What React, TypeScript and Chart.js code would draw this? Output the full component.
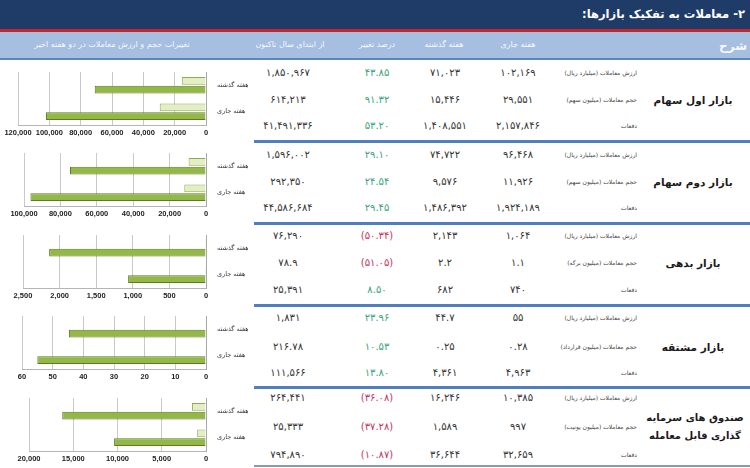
import React, { useEffect, useRef } from "react";
import { Chart, registerables } from "chart.js";
Chart.register(...registerables);

// ---------- data ----------
const weekLabels = ["هفته گذشته", "هفته جاری"];

const firstMarketVolume = [15446, 29551];
const firstMarketValue = [71023, 102169];
const secondMarketVolume = [9576, 11926];
const secondMarketValue = [74722, 96468];
const debtMarketVolume = [2.2, 1.1];
const debtMarketValue = [2143, 1064];
const derivMarketVolume = [0.25, 0.28];
const derivMarketValue = [44.7, 55];
const etfVolume = [1589, 997];
const etfValue = [16246, 10385];

const axisMax = [120000, 100000, 2500, 60, 20000];
const axisStep = [20000, 20000, 500, 10, 5000];

const title = "۲- معاملات به تفکیک بازارها:";
const headerLabels = ["شرح", "هفته جاری", "هفته گذشته", "درصد تغییر", "از ابتدای سال تاکنون", "تغییرات حجم و ارزش معاملات در دو هفته اخیر"];

const sectionNames = [
  ["بازار اول سهام"],
  ["بازار دوم سهام"],
  ["بازار بدهی"],
  ["بازار مشتقه"],
  ["صندوق های سرمایه", "گذاری قابل معامله"],
];
const rowLabels = [
  ["ارزش معاملات (میلیارد ریال)", "حجم معاملات (میلیون سهم)", "دفعات"],
  ["ارزش معاملات (میلیارد ریال)", "حجم معاملات (میلیون سهم)", "دفعات"],
  ["ارزش معاملات (میلیارد ریال)", "حجم معاملات (میلیون برگه)", "دفعات"],
  ["ارزش معاملات (میلیارد ریال)", "حجم معاملات (میلیون قرارداد)", "دفعات"],
  ["ارزش معاملات (میلیارد ریال)", "حجم معاملات (میلیون یونیت)", "دفعات"],
];
const currentWeek = [
  ["102,169", "29,551", "2,157,846"],
  ["96,468", "11,926", "1,924,189"],
  ["1,064", "1.1", "740"],
  ["55", "0.28", "4,963"],
  ["10,385", "997", "32,659"],
];
const previousWeek = [
  ["71,023", "15,446", "1,408,551"],
  ["74,722", "9,576", "1,486,392"],
  ["2,143", "2.2", "682"],
  ["44.7", "0.25", "4,361"],
  ["16,246", "1,589", "36,644"],
];
const changePct = [
  ["43.85", "91.32", "53.20"],
  ["29.10", "24.54", "29.45"],
  ["(50.34)", "(51.05)", "8.50"],
  ["23.96", "10.53", "13.80"],
  ["(36.08)", "(37.28)", "(10.87)"],
];
const yearToDate = [
  ["1,850,967", "614,213", "41,491,336"],
  ["1,596,002", "292,350", "44,586,684"],
  ["76,290", "78.9", "25,391"],
  ["1,831", "216.78", "111,566"],
  ["264,441", "25,333", "794,890"],
];

const chartVolumes = [firstMarketVolume, secondMarketVolume, debtMarketVolume, derivMarketVolume, etfVolume];
const chartValues = [firstMarketValue, secondMarketValue, debtMarketValue, derivMarketValue, etfValue];

// ---------- layout ----------
const rowY = [
  [73, 100, 126],
  [155, 182, 208],
  [236, 263, 290],
  [318, 347, 373],
  [398, 427, 455],
];
const separatorY = [141, 223, 305, 387];
const chartTop = [62, 143, 225, 306, 388];
const chartPadLeft = [18, 24, 23, 22, 29];
const chartH = 78;
const FA_FONT = "'DejaVu Sans', sans-serif";

const faDigits = "۰۱۲۳۴۵۶۷۸۹";
const toFa = (s: string) => s.replace(/[0-9]/g, (d) => faDigits[Number(d)]);

function MiniChart({ idx }: { idx: number }) {
  const ref = useRef<HTMLCanvasElement | null>(null);
  useEffect(() => {
    if (!ref.current) return;
    const chart = new Chart(ref.current, {
      type: "bar",
      data: {
        labels: weekLabels,
        datasets: [
          {
            label: "حجم",
            data: chartVolumes[idx],
            backgroundColor: "#e3edc6",
            borderColor: "#8fae45",
            borderWidth: 1,
            barPercentage: 0.9,
            categoryPercentage: 0.66,
          },
          {
            label: "ارزش",
            data: chartValues[idx],
            backgroundColor: "#93b847",
            borderColor: "#5d7c22",
            borderWidth: 1,
            barPercentage: 0.9,
            categoryPercentage: 0.66,
          },
        ],
      },
      options: {
        indexAxis: "y",
        animation: false,
        responsive: false,
        maintainAspectRatio: false,
        layout: { padding: { left: chartPadLeft[idx], right: 1, top: 10, bottom: 0 } },
        plugins: { legend: { display: false }, tooltip: { enabled: false } },
        scales: {
          x: {
            reverse: true,
            min: 0,
            max: axisMax[idx],
            ticks: {
              stepSize: axisStep[idx],
              autoSkip: false,
              color: "#222",
              font: { family: "'Liberation Sans', Arial, sans-serif", size: 7.5, weight: "bold" },
              padding: 3,
              maxRotation: 0,
              minRotation: 0,
              callback: (v: any) => Number(v).toLocaleString("en-US"),
            },
            grid: { color: "#c9c9c9", lineWidth: 1, drawTicks: false },
            border: { display: true, color: "#b5b5b5" },
          },
          y: {
            position: "right",
            ticks: {
              color: "#333",
              font: { family: FA_FONT, size: 6.5 },
              padding: 3,
            },
            grid: { display: false, drawTicks: true },
            border: { display: true, color: "#a8a8a8" },
            afterFit: (s: any) => {
              s.width = 42;
            },
          },
        },
      },
    });
    return () => chart.destroy();
  }, [idx]);
  return (
    <canvas
      ref={ref}
      width={249}
      height={chartH}
      style={{ position: "absolute", left: 0, top: chartTop[idx], width: 249, height: chartH }}
    />
  );
}

function Cell({ x, y, text, color, size, weight, dir, align, width }: any) {
  const w = width || 90;
  let left = x - w / 2;
  if (align === "right") left = x - w;
  return (
    <div
      style={{
        position: "absolute",
        left,
        top: y - 10,
        width: w,
        height: 20,
        lineHeight: "20px",
        textAlign: align === "right" ? "right" : "center",
        fontFamily: FA_FONT,
        fontSize: size,
        fontWeight: weight || "normal",
        color,
        direction: dir || "rtl",
        whiteSpace: "nowrap",
      }}
    >
      {text}
    </div>
  );
}

export default function App() {
  const cols = { cur: 518, prev: 445, chg: 377, ytd: 288 };
  const els: any[] = [];
  for (let s = 0; s < 5; s++) {
    for (let r = 0; r < 3; r++) {
      const y = rowY[s][r];
      els.push(<Cell key={`l${s}${r}`} x={637} y={y} text={rowLabels[s][r]} color="#444" size={6} align="right" width={120} />);
      els.push(<Cell key={`c${s}${r}`} x={cols.cur} y={y} text={toFa(currentWeek[s][r])} color="#333" size={10} dir="ltr" />);
      els.push(<Cell key={`p${s}${r}`} x={cols.prev} y={y} text={toFa(previousWeek[s][r])} color="#333" size={10} dir="ltr" />);
      const neg = changePct[s][r].startsWith("(");
      els.push(
        <Cell key={`g${s}${r}`} x={cols.chg} y={y} text={toFa(changePct[s][r])} color={neg ? "#c8345a" : "#3aa57a"} size={10} dir="ltr" />
      );
      els.push(<Cell key={`y${s}${r}`} x={cols.ytd} y={y} text={toFa(yearToDate[s][r])} color="#333" size={10} dir="ltr" />);
    }
    const names = sectionNames[s];
    if (names.length === 1) {
      els.push(<Cell key={`n${s}`} x={693} y={rowY[s][1]} text={names[0]} color="#1a1a1a" size={10.5} weight="bold" width={110} />);
    } else {
      els.push(<Cell key={`n${s}a`} x={695} y={rowY[s][1] - 9} text={names[0]} color="#1a1a1a" size={10} weight="bold" width={110} />);
      els.push(<Cell key={`n${s}b`} x={695} y={rowY[s][1] + 9} text={names[1]} color="#1a1a1a" size={10} weight="bold" width={110} />);
    }
  }
  return (
    <div style={{ position: "fixed", left: 0, top: 0, width: 750, height: 468, background: "#fff", overflow: "hidden" }}>
      <div style={{ position: "absolute", left: 0, top: 0, width: 750, height: 29, background: "#1f3c68" }} />
      <div style={{ position: "absolute", left: 0, top: 29, width: 750, height: 3, background: "#c3262f" }} />
      <div style={{ position: "absolute", left: 0, top: 32, width: 750, height: 26, background: "#a6bfe0" }} />
      <div style={{ position: "absolute", left: 0, top: 58, width: 750, height: 2, background: "#5a86c4" }} />
      <Cell x={745} y={14} text={title} color="#fff" size={11.5} weight="bold" align="right" width={300} />
      <Cell x={747} y={46} text={headerLabels[0]} color="#f5f8ff" size={12} weight="bold" align="right" width={40} />
      <Cell x={518} y={45} text={headerLabels[1]} color="#f5f8ff" size={8} />
      <Cell x={444} y={45} text={headerLabels[2]} color="#f5f8ff" size={8} />
      <Cell x={377} y={45} text={headerLabels[3]} color="#f5f8ff" size={8} />
      <Cell x={290} y={45} text={headerLabels[4]} color="#f5f8ff" size={8} width={120} />
      <Cell x={112} y={45} text={headerLabels[5]} color="#f5f8ff" size={8} width={220} />
      {separatorY.map((y, i) => (
        <div key={`sep${i}`} style={{ position: "absolute", left: 254, top: y - 1, width: 496, height: 3, background: "#4f7fc0" }} />
      ))}
      <div style={{ position: "absolute", left: 254, top: 465, width: 496, height: 2, background: "#8a9bb0" }} />
      {els}
      {[0, 1, 2, 3, 4].map((i) => (
        <MiniChart key={`ch${i}`} idx={i} />
      ))}
    </div>
  );
}
